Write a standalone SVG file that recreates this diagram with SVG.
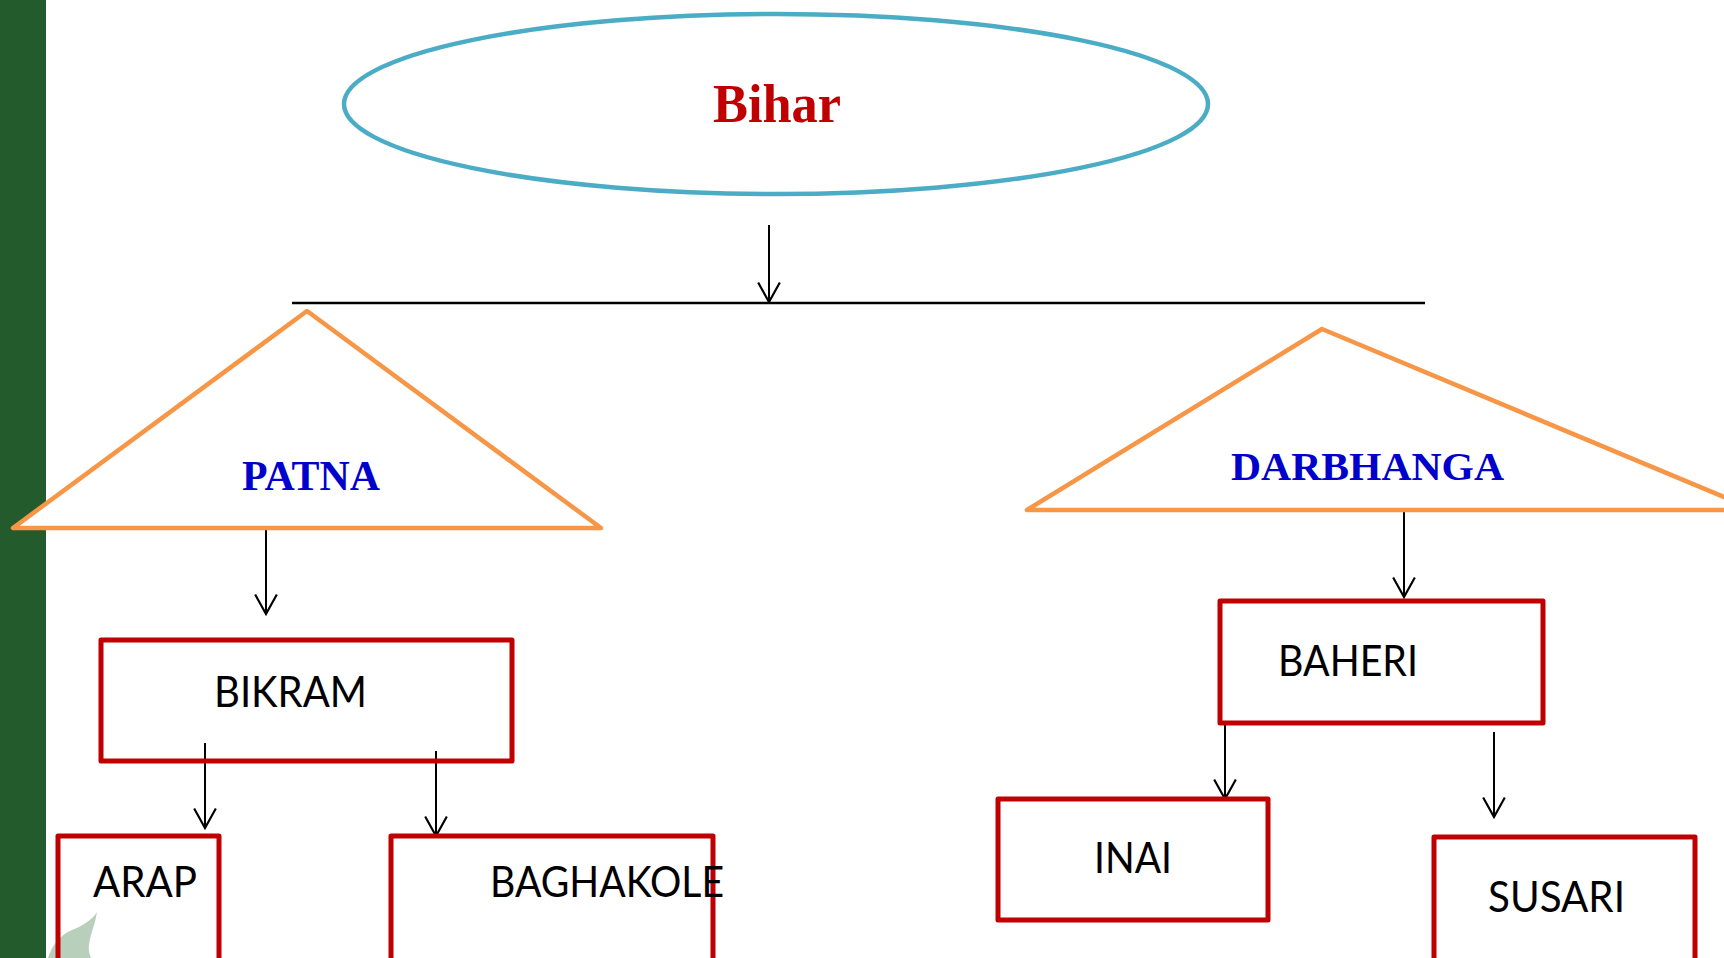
<svg xmlns="http://www.w3.org/2000/svg" width="1724" height="958" viewBox="0 0 1724 958">
  <style>
    .box { fill: none; stroke: #C00000; stroke-width: 5; stroke-linejoin: round; }
    .tri { fill: #FFFFFF; stroke: #F79646; stroke-width: 4.5; stroke-linejoin: round; }
    .conn { stroke: #000000; stroke-width: 2; fill: none; }
    .lbl { font-family: Lato, "Open Sans", "Liberation Sans", sans-serif; font-size: 43px; fill: #000000; }
    .ser { font-family: "Liberation Serif", "DejaVu Serif", serif; font-weight: bold; }
  </style>
  <defs>
    <marker id="arr" markerUnits="userSpaceOnUse" markerWidth="24" markerHeight="26" viewBox="-20 -12 22 24" refX="0" refY="0" orient="auto">
      <path d="M-18,-10 L0,0 L-18,10" fill="none" stroke="#000000" stroke-width="2"/>
    </marker>
  </defs>
  <rect x="0" y="0" width="1724" height="958" fill="#FFFFFF"/>
  <rect x="0" y="0" width="46" height="958" fill="#235B2C"/>
  <path d="M48,958 C52,945 60,935 72,930 C82,926 92,920 97,912 C95,925 90,935 89,945 C88,950 90,955 91,958 Z" fill="#B8CFBC"/>

  <g id="connectors">
    <line class="conn" x1="769" y1="225" x2="769" y2="302" marker-end="url(#arr)"/>
    <line x1="292" y1="303" x2="1425" y2="303" stroke="#000000" stroke-width="2.5"/>
    <line class="conn" x1="266" y1="530" x2="266" y2="614" marker-end="url(#arr)"/>
    <line class="conn" x1="205" y1="743" x2="205" y2="828" marker-end="url(#arr)"/>
    <line class="conn" x1="436" y1="751" x2="436" y2="836" marker-end="url(#arr)"/>
    <line class="conn" x1="1404" y1="511" x2="1404" y2="597" marker-end="url(#arr)"/>
    <line class="conn" x1="1225" y1="723" x2="1225" y2="799" marker-end="url(#arr)"/>
    <line class="conn" x1="1494" y1="732" x2="1494" y2="817" marker-end="url(#arr)"/>
  </g>

  <g id="bihar">
    <ellipse cx="776" cy="104" rx="432" ry="90" fill="none" stroke="#4BACC6" stroke-width="4.5"/>
    <text class="ser" x="713" y="122" font-size="54" fill="#C00000" textLength="128" lengthAdjust="spacingAndGlyphs">Bihar</text>
  </g>

  <g id="patna">
    <polygon class="tri" points="307,311 13,528 601,528"/>
    <text class="ser" x="242" y="490" font-size="43" fill="#0000CC" textLength="138" lengthAdjust="spacingAndGlyphs">PATNA</text>
  </g>

  <g id="darbhanga">
    <polygon class="tri" points="1322,329 1027,510 1755,510"/>
    <text class="ser" x="1231" y="480" font-size="41" fill="#0000CC" textLength="273" lengthAdjust="spacingAndGlyphs">DARBHANGA</text>
  </g>

  <g id="bikram">
    <rect class="box" x="101" y="640" width="411" height="121"/>
    <text class="lbl" x="214" y="707" textLength="153" lengthAdjust="spacingAndGlyphs">BIKRAM</text>
  </g>

  <g id="arap">
    <rect class="box" x="58" y="836" width="161" height="140"/>
    <text class="lbl" x="93" y="897" textLength="104" lengthAdjust="spacingAndGlyphs">ARAP</text>
  </g>

  <g id="baghakole">
    <rect class="box" x="391" y="836" width="322" height="140"/>
    <text class="lbl" x="490" y="897" textLength="234" lengthAdjust="spacingAndGlyphs">BAGHAKOLE</text>
  </g>

  <g id="baheri">
    <rect class="box" x="1220" y="601" width="323" height="122"/>
    <text class="lbl" x="1278" y="676" textLength="140" lengthAdjust="spacingAndGlyphs">BAHERI</text>
  </g>

  <g id="inai">
    <rect class="box" x="998" y="799" width="270" height="121"/>
    <text class="lbl" x="1094" y="873" textLength="78" lengthAdjust="spacingAndGlyphs">INAI</text>
  </g>

  <g id="susari">
    <rect class="box" x="1434" y="837" width="261" height="140"/>
    <text class="lbl" x="1488" y="912" textLength="137" lengthAdjust="spacingAndGlyphs">SUSARI</text>
  </g>
</svg>
